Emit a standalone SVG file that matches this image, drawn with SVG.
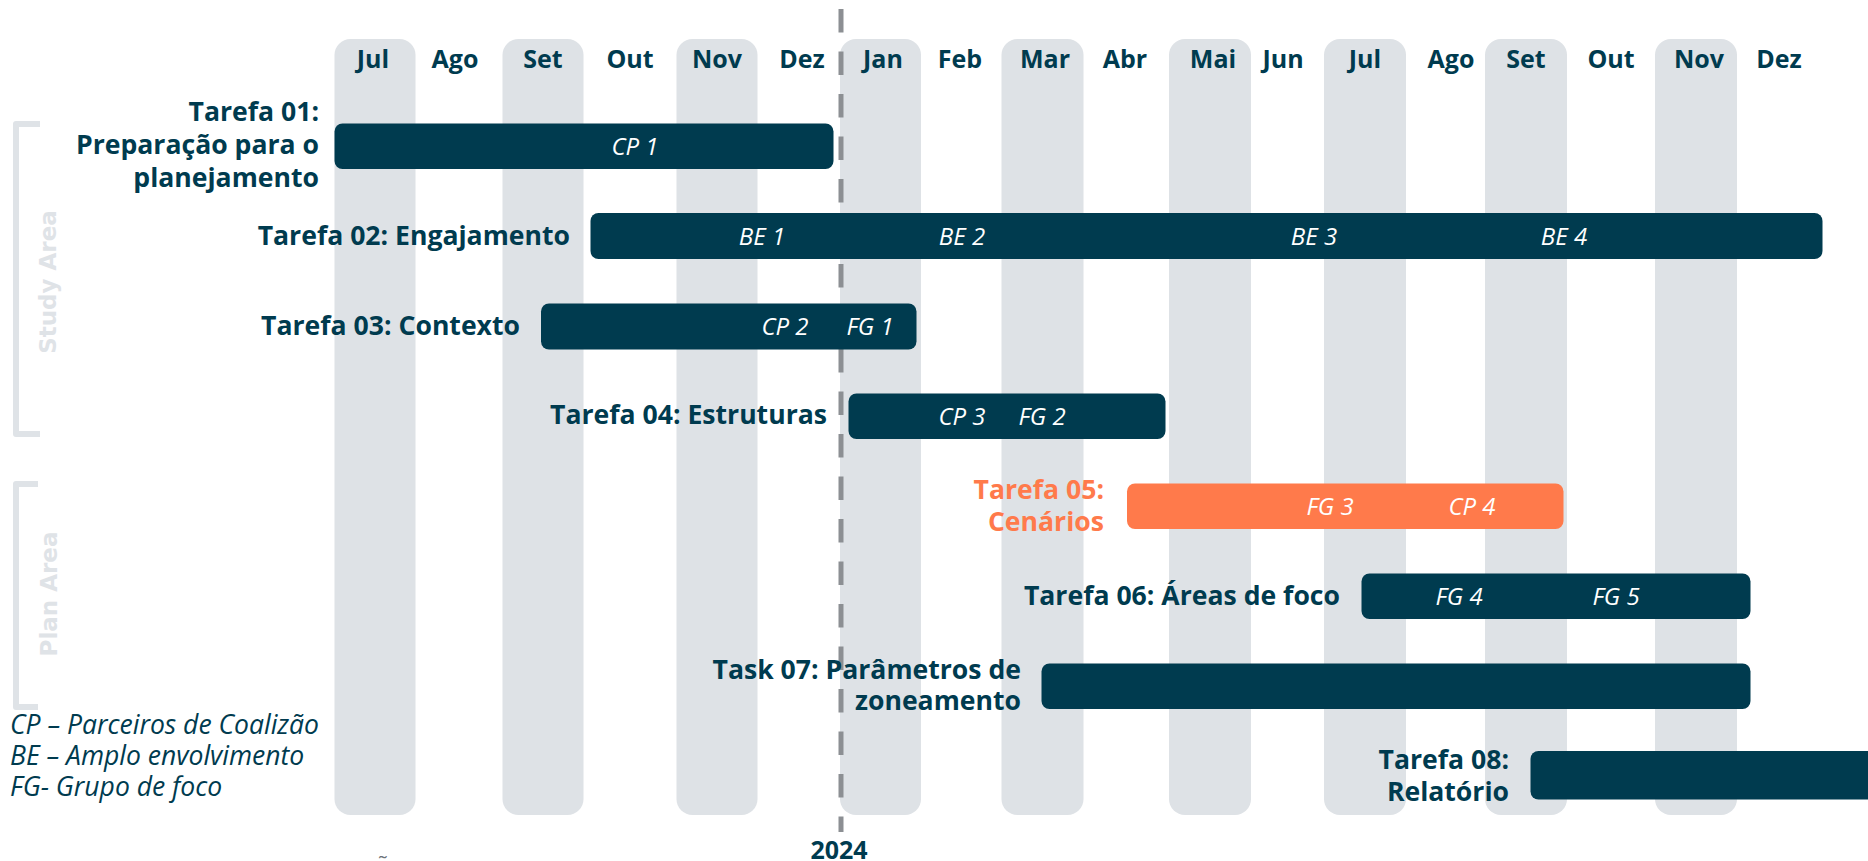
<svg xmlns="http://www.w3.org/2000/svg" width="1868" height="861" viewBox="0 0 1868 861">
<style>
.stripe{fill:#dee2e6}
.bar{fill:#003b4f}
.bar.orange{fill:#ff7a4b}
.month{font-family:"Open Sans","Liberation Sans",sans-serif;font-weight:700;font-size:25px;fill:#003b4f;text-anchor:middle}
.lbl{font-family:"Open Sans","Liberation Sans",sans-serif;font-weight:700;font-size:26.6px;fill:#003b4f;text-anchor:end}
.lbl.orange{fill:#ff7a4b}
.bt{font-family:"Open Sans","Liberation Sans",sans-serif;font-style:italic;font-weight:400;font-size:24px;fill:#ffffff;text-anchor:middle}
.legend{font-family:"Open Sans","Liberation Sans",sans-serif;font-style:italic;font-weight:400;font-size:26.5px;fill:#003b4f}
.area{font-family:"DejaVu Sans","Liberation Sans",sans-serif;font-weight:700;font-size:23px;fill:#dfe3e7;text-anchor:middle}
.bracket{fill:none;stroke:#dfe3e7;stroke-width:6;stroke-linejoin:round;stroke-linecap:butt}
</style>
<rect width="1868" height="861" fill="#ffffff"/>
<g id="stripes">
<rect class="stripe" x="334.5" y="39" width="81" height="776" rx="16"/>
<rect class="stripe" x="502.5" y="39" width="81" height="776" rx="16"/>
<rect class="stripe" x="676.5" y="39" width="81" height="776" rx="16"/>
<rect class="stripe" x="840" y="39" width="81" height="776" rx="16"/>
<rect class="stripe" x="1001.5" y="39" width="82" height="776" rx="16"/>
<rect class="stripe" x="1169" y="39" width="82" height="776" rx="16"/>
<rect class="stripe" x="1324" y="39" width="82" height="776" rx="16"/>
<rect class="stripe" x="1485" y="39" width="82" height="776" rx="16"/>
<rect class="stripe" x="1655" y="39" width="82" height="776" rx="16"/>
</g>
<g id="months">
<text class="month" x="373" y="68">Jul</text>
<text class="month" x="455" y="68">Ago</text>
<text class="month" x="543" y="68">Set</text>
<text class="month" x="630" y="68">Out</text>
<text class="month" x="717" y="68">Nov</text>
<text class="month" x="802" y="68">Dez</text>
<text class="month" x="883" y="68">Jan</text>
<text class="month" x="960" y="68">Feb</text>
<text class="month" x="1045" y="68">Mar</text>
<text class="month" x="1125" y="68">Abr</text>
<text class="month" x="1213" y="68">Mai</text>
<text class="month" x="1283" y="68">Jun</text>
<text class="month" x="1365" y="68">Jul</text>
<text class="month" x="1451" y="68">Ago</text>
<text class="month" x="1526" y="68">Set</text>
<text class="month" x="1611" y="68">Out</text>
<text class="month" x="1699" y="68">Nov</text>
<text class="month" x="1779" y="68">Dez</text>
</g>
<g id="connectors">
<line x1="841" y1="9" x2="841" y2="832" stroke="#8c8f93" stroke-width="5" stroke-dasharray="23.5 19"/>
</g>
<g id="year"><text class="month" x="839" y="859" font-size="26">2024</text></g>
<g id="study-area">
<path class="bracket" d="M40 124 H16 V434 H40"/>
<text class="area" transform="translate(56,282) rotate(-90)">Study Area</text>
</g>
<g id="plan-area">
<path class="bracket" d="M38 484 H16 V707 H38"/>
<text class="area" transform="translate(57,594) rotate(-90)">Plan Area</text>
</g>
<g id="task01">
<text class="lbl" x="319" y="121">Tarefa 01:</text>
<text class="lbl" x="319" y="154">Preparação para o</text>
<text class="lbl" x="319" y="187">planejamento</text>
<rect class="bar" x="334.5" y="123.5" width="499" height="45.5" rx="8"/>
<text class="bt" x="635" y="155">CP 1</text>
</g>
<g id="task02">
<text class="lbl" x="570" y="245">Tarefa 02: Engajamento</text>
<rect class="bar" x="590.5" y="213" width="1232" height="46" rx="8"/>
<text class="bt" x="762" y="245">BE 1</text>
<text class="bt" x="962" y="245">BE 2</text>
<text class="bt" x="1314" y="245">BE 3</text>
<text class="bt" x="1564" y="245">BE 4</text>
</g>
<g id="task03">
<text class="lbl" x="520" y="335">Tarefa 03: Contexto</text>
<rect class="bar" x="541" y="303.5" width="375.5" height="46" rx="8"/>
<text class="bt" x="785" y="335">CP 2</text>
<text class="bt" x="870" y="335">FG 1</text>
</g>
<g id="task04">
<text class="lbl" x="827" y="424">Tarefa 04: Estruturas</text>
<rect class="bar" x="848.5" y="393.5" width="317" height="45.5" rx="8"/>
<text class="bt" x="962" y="425">CP 3</text>
<text class="bt" x="1042" y="425">FG 2</text>
</g>
<g id="task05">
<text class="lbl orange" x="1104" y="499">Tarefa 05:</text>
<text class="lbl orange" x="1104" y="531">Cenários</text>
<rect class="bar orange" x="1127" y="483.5" width="436.5" height="45.5" rx="8"/>
<text class="bt" x="1330" y="515">FG 3</text>
<text class="bt" x="1472" y="515">CP 4</text>
</g>
<g id="task06">
<text class="lbl" x="1340" y="605">Tarefa 06: Áreas de foco</text>
<rect class="bar" x="1361.5" y="573.5" width="389" height="45.5" rx="8"/>
<text class="bt" x="1459" y="605">FG 4</text>
<text class="bt" x="1616" y="605">FG 5</text>
</g>
<g id="task07">
<text class="lbl" x="1021" y="679">Task 07: Parâmetros de</text>
<text class="lbl" x="1021" y="710">zoneamento</text>
<rect class="bar" x="1041.5" y="663.5" width="709" height="45.5" rx="8"/>
</g>
<g id="task08">
<text class="lbl" x="1509" y="769">Tarefa 08:</text>
<text class="lbl" x="1509" y="801">Relatório</text>
<rect class="bar" x="1530.5" y="751" width="360" height="48.5" rx="8"/>
</g>
<g id="legend">
<text class="legend" x="10" y="734">CP – Parceiros de Coalizão</text>
<text class="legend" x="10" y="765">BE – Amplo envolvimento</text>
<text class="legend" x="10" y="796">FG- Grupo de foco</text>
<text x="378" y="872" font-family="Open Sans, sans-serif" font-size="22" fill="#6d7378">˜</text>
</g>
</svg>
